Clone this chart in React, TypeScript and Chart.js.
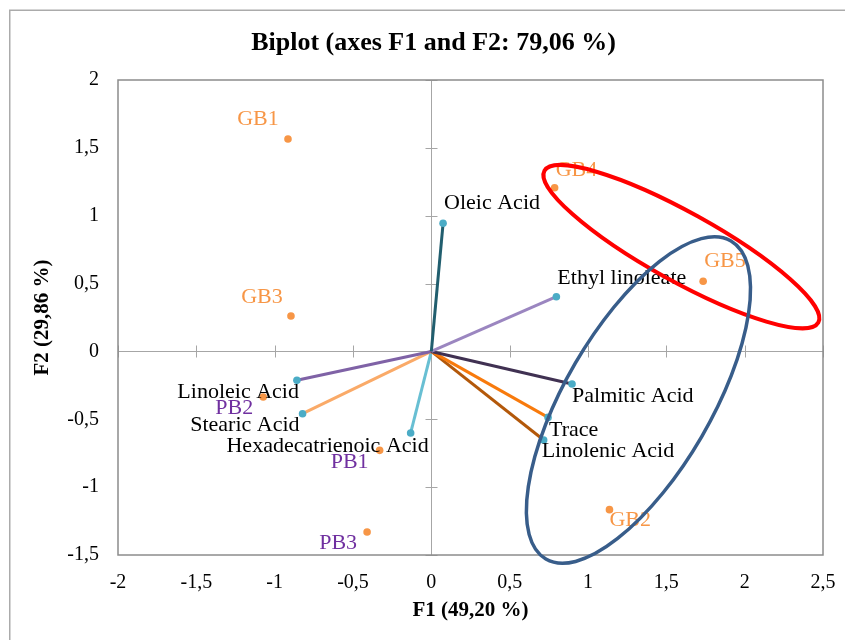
import React, { useEffect, useRef } from "react";
import { Chart, registerables } from "chart.js";

Chart.register(...registerables);

// ---- Data ----
const TITLE = "Biplot (axes F1 and F2: 79,06 %)";
const X_TITLE = "F1 (49,20 %)";
const Y_TITLE = "F2 (29,86 %)";

const X_TICK_VALUES = [-2, -1.5, -1, -0.5, 0, 0.5, 1, 1.5, 2, 2.5];
const X_TICK_LABELS = ["-2", "-1,5", "-1", "-0,5", "0", "0,5", "1", "1,5", "2", "2,5"];
const Y_TICK_VALUES = [-1.5, -1, -0.5, 0, 0.5, 1, 1.5, 2];
const Y_TICK_LABELS = ["-1,5", "-1", "-0,5", "0", "0,5", "1", "1,5", "2"];

const OBS_NAMES = ["GB1", "GB2", "GB3", "GB4", "GB5", "PB1", "PB2", "PB3"];
const OBS_F1 = [-0.915, 1.137, -0.896, 0.787, 1.735, -0.33, -1.073, -0.41];
const OBS_F2 = [1.565, -1.166, 0.261, 1.206, 0.517, -0.729, -0.336, -1.331];

const VAR_NAMES = [
  "Oleic Acid",
  "Ethyl linoleate",
  "Palmitic Acid",
  "Trace",
  "Linolenic Acid",
  "Linoleic Acid",
  "Stearic Acid",
  "Hexadecatrienoic Acid",
];
const VAR_F1 = [0.075, 0.798, 0.898, 0.745, 0.717, -0.858, -0.822, -0.132];
const VAR_F2 = [0.944, 0.403, -0.24, -0.486, -0.653, -0.213, -0.459, -0.601];

// Ellipse annotations: center and two conjugate half-axis vectors (data units)
const ELLIPSE_CENTERS = [
  [1.596, 0.772],
  [1.322, -0.358],
];
const ELLIPSE_AXIS_A = [
  [0.874, -0.559],
  [0.591, 1.172],
];
const ELLIPSE_AXIS_B = [
  [-0.107, -0.222],
  [0.403, -0.271],
];

// ---- Styles ----
const SERIF = "'Liberation Serif', 'Times New Roman', serif";
const OBS_POINT_COLOR = "#F79646";
const VAR_POINT_COLOR = "#4BACC6";
const OBS_LABEL_COLORS = ["#F79646", "#F79646", "#F79646", "#F79646", "#F79646", "#7030A0", "#7030A0", "#7030A0"];
const VAR_LINE_COLORS = ["#215E6E", "#9B86C0", "#403152", "#F87A0C", "#B3580A", "#7F62A6", "#FAAA68", "#68BFD3"];
const ELLIPSE_COLORS = ["#FF0000", "#385D8A"];
const ELLIPSE_WIDTHS = [4, 3.5];

// label placement: [align, dx, dy] in pixels from the point
const OBS_LABEL_POS: [CanvasTextAlign, number, number][] = [
  ["center", -30, -20],
  ["left", 0, 11],
  ["center", -29, -18.5],
  ["left", 1, -18],
  ["left", 1, -20],
  ["center", -30, 11.5],
  ["center", -29, 11],
  ["center", -29, 11.5],
];
const VAR_LABEL_POS: [CanvasTextAlign, number, number][] = [
  ["left", 1, -20],
  ["left", 1, -19],
  ["left", 0, 12],
  ["left", 1, 13],
  ["left", -2, 11.5],
  ["right", 2, 12],
  ["right", -3, 11.5],
  ["right", 18, 13],
];

const framePlugin = {
  id: "frame",
  beforeDraw(chart: any) {
    const ctx = chart.ctx;
    ctx.save();
    ctx.fillStyle = "#FFFFFF";
    ctx.fillRect(0, 0, chart.width, chart.height);
    ctx.strokeStyle = "#ABABAB";
    ctx.lineWidth = 1.5;
    ctx.strokeRect(9.75, 10.25, chart.width + 20, chart.height + 20);
    // chart title
    ctx.fillStyle = "#000000";
    ctx.font = `bold 26px ${SERIF}`;
    ctx.textAlign = "center";
    ctx.textBaseline = "middle";
    ctx.fillText(TITLE, 433.5, 43);
    ctx.restore();
  },
  beforeDatasetsDraw(chart: any) {
    const ctx = chart.ctx;
    const { left, right, top, bottom } = chart.chartArea;
    const xs = chart.scales.x;
    const ys = chart.scales.y;
    const x0 = Math.round(xs.getPixelForValue(0)) + 0.5;
    const y0 = Math.round(ys.getPixelForValue(0)) + 0.5;
    ctx.save();
    ctx.strokeStyle = "#A6A6A6";
    ctx.lineWidth = 1;
    ctx.beginPath();
    ctx.moveTo(x0, top);
    ctx.lineTo(x0, bottom);
    ctx.moveTo(left, y0);
    ctx.lineTo(right, y0);
    X_TICK_VALUES.forEach((v) => {
      if (v === 0) return;
      const px = Math.round(xs.getPixelForValue(v)) + 0.5;
      ctx.moveTo(px, y0 - 6);
      ctx.lineTo(px, y0 + 6);
    });
    Y_TICK_VALUES.forEach((v) => {
      if (v === 0) return;
      const py = Math.round(ys.getPixelForValue(v)) + 0.5;
      ctx.moveTo(x0 - 6, py);
      ctx.lineTo(x0 + 6, py);
    });
    ctx.stroke();
    ctx.strokeStyle = "#8C8C8C";
    ctx.lineWidth = 1.5;
    ctx.strokeRect(left, top, right - left, bottom - top);
    ctx.restore();
  },
  afterDatasetsDraw(chart: any) {
    const ctx = chart.ctx;
    ctx.save();
    ctx.font = `22px ${SERIF}`;
    ctx.textBaseline = "middle";
    // variable labels
    VAR_NAMES.forEach((name, i) => {
      const meta = chart.getDatasetMeta(i + 1);
      const el = meta.data[1];
      const [align, dx, dy] = VAR_LABEL_POS[i];
      ctx.textAlign = align;
      ctx.fillStyle = "#000000";
      ctx.fillText(name, el.x + dx, el.y + dy);
    });
    // observation labels
    const obsMeta = chart.getDatasetMeta(0);
    OBS_NAMES.forEach((name, i) => {
      const el = obsMeta.data[i];
      const [align, dx, dy] = OBS_LABEL_POS[i];
      ctx.textAlign = align;
      ctx.fillStyle = OBS_LABEL_COLORS[i];
      ctx.fillText(name, el.x + dx, el.y + dy);
    });
    // ellipses
    const xs = chart.scales.x;
    const ys = chart.scales.y;
    ELLIPSE_CENTERS.forEach(([cx, cy], i) => {
      const pcx = xs.getPixelForValue(cx);
      const pcy = ys.getPixelForValue(cy);
      const [ax, ay] = ELLIPSE_AXIS_A[i];
      const [bx, by] = ELLIPSE_AXIS_B[i];
      const Ax = xs.getPixelForValue(cx + ax) - pcx;
      const Ay = ys.getPixelForValue(cy + ay) - pcy;
      const Bx = xs.getPixelForValue(cx + bx) - pcx;
      const By = ys.getPixelForValue(cy + by) - pcy;
      ctx.save();
      ctx.beginPath();
      ctx.transform(Ax, Ay, Bx, By, pcx, pcy);
      ctx.arc(0, 0, 1, 0, Math.PI * 2);
      ctx.restore();
      ctx.strokeStyle = ELLIPSE_COLORS[i];
      ctx.lineWidth = ELLIPSE_WIDTHS[i];
      ctx.stroke();
    });
    ctx.restore();
  },
};

export default function App() {
  const canvasRef = useRef<HTMLCanvasElement | null>(null);

  useEffect(() => {
    const canvas = canvasRef.current;
    if (!canvas) return;

    const obsDataset = {
      type: "scatter",
      label: "Observations",
      data: OBS_F1.map((x, i) => ({ x, y: OBS_F2[i] })),
      backgroundColor: OBS_POINT_COLOR,
      borderWidth: 0,
      pointRadius: 3.8,
      order: 0,
    };
    const varDatasets = VAR_NAMES.map((name, i) => ({
      type: "line",
      label: name,
      data: [
        { x: 0, y: 0 },
        { x: VAR_F1[i], y: VAR_F2[i] },
      ],
      showLine: true,
      borderColor: VAR_LINE_COLORS[i],
      borderWidth: 3,
      pointRadius: [0, 3.8],
      pointBackgroundColor: VAR_POINT_COLOR,
      pointBorderWidth: 0,
      fill: false,
      tension: 0,
      order: 1,
    }));

    const chart = new Chart(canvas, {
      type: "scatter",
      data: { datasets: [obsDataset, ...varDatasets] as any },
      plugins: [framePlugin],
      options: {
        animation: false,
        responsive: false,
        events: [],
        layout: { padding: { left: 0, right: 22, top: 80, bottom: 0 } },
        plugins: {
          legend: { display: false },
          tooltip: { enabled: false },
          title: { display: false },
        },
        scales: {
          x: {
            type: "linear",
            min: -2,
            max: 2.5,
            afterBuildTicks: (scale: any) => {
              scale.ticks = X_TICK_VALUES.map((v) => ({ value: v }));
            },
            afterFit: (scale: any) => {
              scale.height = 85;
            },
            grid: { display: false },
            border: { display: false },
            ticks: {
              color: "#000000",
              font: { family: SERIF, size: 20 },
              padding: 7.5,
              maxRotation: 0,
              autoSkip: false,
              callback: (v: any) => {
                const k = X_TICK_VALUES.indexOf(Number(v));
                return k >= 0 ? X_TICK_LABELS[k] : "";
              },
            },
            title: {
              display: true,
              text: X_TITLE,
              color: "#000000",
              font: { family: SERIF, size: 21, weight: "bold", lineHeight: 1.2 },
              padding: { top: 0, bottom: 16.4 },
            },
          },
          y: {
            type: "linear",
            min: -1.5,
            max: 2,
            afterBuildTicks: (scale: any) => {
              scale.ticks = Y_TICK_VALUES.map((v) => ({ value: v }));
            },
            afterFit: (scale: any) => {
              scale.width = 118;
            },
            grid: { display: false },
            border: { display: false },
            ticks: {
              color: "#000000",
              font: { family: SERIF, size: 20 },
              padding: 11,
              autoSkip: false,
              callback: (v: any) => {
                const k = Y_TICK_VALUES.indexOf(Number(v));
                return k >= 0 ? Y_TICK_LABELS[k] : "";
              },
            },
            title: {
              display: true,
              text: Y_TITLE,
              color: "#000000",
              font: { family: SERIF, size: 21, weight: "bold", lineHeight: 1.2 },
              padding: { top: 30.4, bottom: 0 },
            },
          },
        },
      } as any,
    });

    return () => {
      chart.destroy();
    };
  }, []);

  return (
    <div style={{ position: "fixed", left: 0, top: 0, width: 845, height: 640, background: "#fff" }}>
      <canvas ref={canvasRef} width={845} height={640} style={{ display: "block", width: 845, height: 640 }} />
    </div>
  );
}
